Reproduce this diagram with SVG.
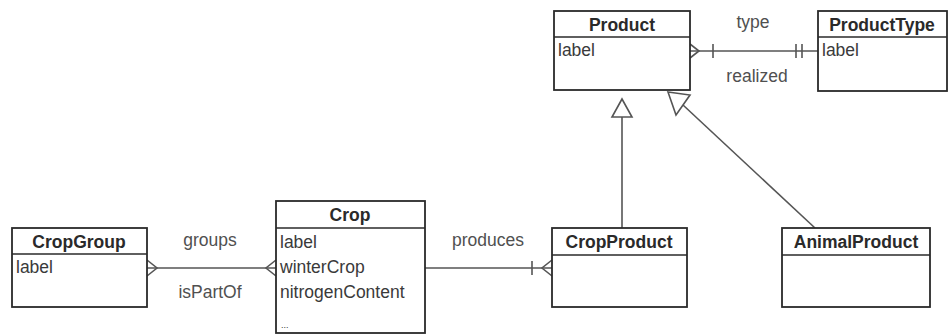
<svg xmlns="http://www.w3.org/2000/svg" width="949" height="335" viewBox="0 0 949 335">
  <style>
    .box { fill: #ffffff; stroke: #2a2a2a; stroke-width: 1.8; }
    .sep { stroke: #2a2a2a; stroke-width: 1.6; }
    .title { font-family: "Liberation Sans", Arial, sans-serif; font-size: 17.5px; font-weight: bold; fill: #2a2a2a; text-anchor: middle; }
    .attr { font-family: "Liberation Sans", Arial, sans-serif; font-size: 17.5px; fill: #3a3a3a; }
    .role { font-family: "Liberation Sans", Arial, sans-serif; font-size: 17.5px; fill: #505050; text-anchor: middle; }
    .edge { fill: none; stroke: #555555; stroke-width: 1.6; }
    .head { fill: #ffffff; stroke: #555555; stroke-width: 1.6; }
  </style>

  <rect width="949" height="335" fill="#ffffff"/>

  <!-- associations and generalizations -->
  <g id="connectors">
    <!-- Product (many) to ProductType (exactly one) -->
    <line class="edge" x1="690" y1="51" x2="818" y2="51"/>
    <polyline class="edge" points="690,44 699,51 690,58"/>
    <line class="edge" x1="713" y1="44" x2="713" y2="58"/>
    <line class="edge" x1="796" y1="44" x2="796" y2="58"/>
    <line class="edge" x1="802" y1="44" x2="802" y2="58"/>
    <text class="role" x="753" y="28">type</text>
    <text class="role" x="757" y="82">realized</text>

    <!-- CropGroup (many) to Crop (many) -->
    <line class="edge" x1="147" y1="268" x2="276" y2="268"/>
    <polyline class="edge" points="147,260 157,268 147,276"/>
    <polyline class="edge" points="276,260 266,268 276,276"/>
    <text class="role" x="210" y="246">groups</text>
    <text class="role" x="210" y="298">isPartOf</text>

    <!-- Crop to CropProduct (one or many) -->
    <line class="edge" x1="425" y1="268" x2="552" y2="268"/>
    <line class="edge" x1="532" y1="261" x2="532" y2="275"/>
    <polyline class="edge" points="552,260 542,268 552,276"/>
    <text class="role" x="488" y="246">produces</text>

    <!-- CropProduct is-a Product -->
    <line class="edge" x1="622" y1="228" x2="622" y2="117"/>
    <polygon class="head" points="622,99 612,117 632,117"/>

    <!-- AnimalProduct is-a Product -->
    <line class="edge" x1="815" y1="228" x2="683" y2="105"/>
    <polygon class="head" points="668,92 690,95 676,115"/>
  </g>

  <g id="Product">
    <rect class="box" x="554" y="11" width="136" height="79"/>
    <line class="sep" x1="554" y1="37" x2="690" y2="37"/>
    <text class="title" x="622" y="31">Product</text>
    <text class="attr" x="558" y="56">label</text>
  </g>

  <g id="ProductType">
    <rect class="box" x="818" y="11" width="129" height="80"/>
    <line class="sep" x1="818" y1="37" x2="947" y2="37"/>
    <text class="title" x="882" y="31">ProductType</text>
    <text class="attr" x="822" y="56">label</text>
  </g>

  <g id="CropGroup">
    <rect class="box" x="12" y="228" width="135" height="79"/>
    <line class="sep" x1="12" y1="254" x2="147" y2="254"/>
    <text class="title" x="79" y="248">CropGroup</text>
    <text class="attr" x="16" y="273">label</text>
  </g>

  <g id="Crop">
    <rect class="box" x="276" y="201" width="149" height="132"/>
    <line class="sep" x1="276" y1="228" x2="425" y2="228"/>
    <text class="title" x="350" y="221">Crop</text>
    <text class="attr" x="280" y="248">label</text>
    <text class="attr" x="280" y="273">winterCrop</text>
    <text class="attr" x="280" y="298">nitrogenContent</text>
    <text class="attr" x="281" y="328" style="font-size:9px">...</text>
  </g>

  <g id="CropProduct">
    <rect class="box" x="552" y="228" width="135" height="79"/>
    <line class="sep" x1="552" y1="255" x2="687" y2="255"/>
    <text class="title" x="619" y="248">CropProduct</text>
  </g>

  <g id="AnimalProduct">
    <rect class="box" x="782" y="228" width="148" height="79"/>
    <line class="sep" x1="782" y1="255" x2="930" y2="255"/>
    <text class="title" x="856" y="248">AnimalProduct</text>
  </g>
</svg>
